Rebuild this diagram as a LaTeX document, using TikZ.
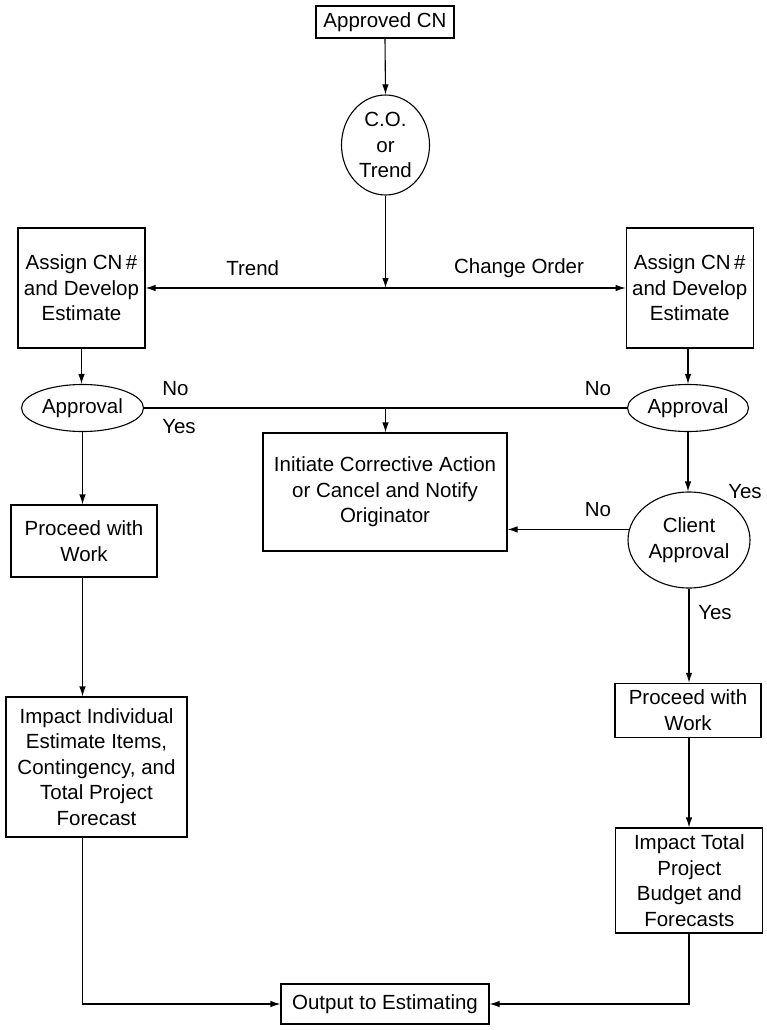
\documentclass[tikz,border=0pt]{standalone}
\usepackage{fontspec}
\setmainfont{Liberation Sans}
\usetikzlibrary{arrows.meta,shapes.geometric,calc}
\tikzset{
  txt/.style={font=\fontsize{20.5}{25.5}\selectfont, align=center},
  box/.style={txt, draw, line width=1.1pt, inner sep=0pt},
  oval/.style={txt, draw, ellipse, line width=1.1pt, inner sep=0pt},
  arr/.style={line width=1.1pt, -{Latex[length=10pt,width=6.5pt]}},
  ln/.style={line width=1.1pt},
  lbl/.style={txt, inner sep=0pt}
}
\begin{document}
\begin{tikzpicture}[x=1pt,y=-1pt]
\useasboundingbox (0,0) rectangle (767,1030);
% nodes
\node[box, minimum width=138, minimum height=32] (approved) at (385,22) {Approved CN};
\node[oval, minimum width=88, minimum height=100] (co) at (385.5,145) {C.O.\\or\\Trend};
\node[box, minimum width=127, minimum height=120] (assignL) at (81.5,288) {Assign CN\,\#\\and Develop\\Estimate};
\node[box, minimum width=127, minimum height=120] (assignR) at (689.7,288) {Assign CN\,\#\\and Develop\\Estimate};
\node[oval, minimum width=122, minimum height=47] (apprL) at (82.5,408) {Approval};
\node[oval, minimum width=121, minimum height=47] (apprR) at (688,408) {Approval};
\node[box, minimum width=244, minimum height=118] (corr) at (385,492) {Initiate Corrective Action\\or Cancel and Notify\\Originator};
\node[oval, minimum width=122, minimum height=96] (client) at (689,540) {Client\\Approval};
\node[box, minimum width=146, minimum height=72] (procL) at (84,541) {Proceed with\\Work};
\node[box, minimum width=181, minimum height=140] (impL) at (96.5,767) {Impact Individual\\Estimate Items,\\Contingency, and\\Total Project\\Forecast};
\node[box, minimum width=146, minimum height=54] (procR) at (688,710.3) {Proceed with\\Work};
\node[box, minimum width=147, minimum height=105] (impR) at (689.3,880.5) {Impact Total\\Project\\Budget and\\Forecasts};
\node[box, minimum width=208, minimum height=40] (out) at (385,1004) {Output to Estimating};
% labels
\node[lbl] (lTrend) at (252.7,268) {Trend};
\node[lbl] (lCO) at (519,268) {Change Order};
\node[lbl] (lNo1) at (175.5,389) {No};
\node[lbl] (lYes1) at (179,427) {Yes};
\node[lbl] (lNo2) at (598,389) {No};
\node[lbl] (lYes2) at (745,492) {Yes};
\node[lbl] (lNo3) at (598,510) {No};
\node[lbl] (lYes3) at (715,613) {Yes};
% junctions
\coordinate (j1) at (co.south |- assignL.east);
\coordinate (j2) at (co.south |- apprL.east);
% connectors
\draw[arr] (approved.south) -- (co.north);
\draw[arr] (co.south) -- (j1);
\draw[arr] (j1) -- (assignL.east);
\draw[arr] (j1) -- (assignR.west);
\draw[arr] (assignL.south) -- (assignL.south |- apprL.north);
\draw[arr] (assignR.south -| apprR.north) -- (apprR.north);
\draw[ln] (apprL.east) -- (apprR.west);
\draw[arr] (j2) -- (j2 |- corr.north);
\draw[arr] (apprR.south) -- (apprR.south |- client.north);
\draw[arr] (client.170) -- (client.170 -| corr.east);
\draw[arr] (apprL.south) -- (apprL.south |- procL.north);
\draw[arr] (apprL.south |- procL.south) -- (apprL.south |- impL.north);
\draw[arr] (apprL.south |- impL.south) |- (out.west);
\draw[arr] (client.south) -- (client.south |- procR.north);
\draw[arr] (client.south |- procR.south) -- (client.south |- impR.north);
\draw[arr] (client.south |- impR.south) |- (out.east);
\end{tikzpicture}
\end{document}
